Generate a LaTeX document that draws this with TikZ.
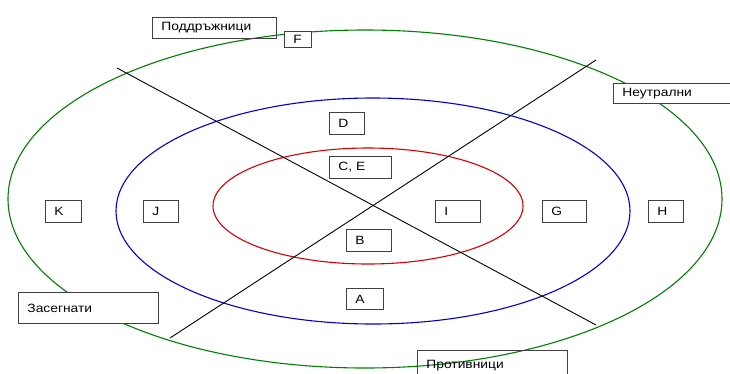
\documentclass[tikz,border=0pt]{standalone}
\usepackage{fontspec}
\setmainfont{Liberation Sans}[FakeStretch=1.15]
\usetikzlibrary{calc}
\begin{document}
\begin{tikzpicture}[x=1pt,y=-1pt,
  lab/.style={draw=black!75, line width=0.9pt, fill=white, anchor=north west,
    inner xsep=9pt, inner ysep=0pt, align=left,
    font=\fontsize{12}{13}\selectfont},
  ring/.style={line width=1.1pt},
  axis/.style={draw=black, line width=0.9pt}]
\useasboundingbox (0,0) rectangle (730,373);
\fill[white] (0,0) rectangle (730,373);

% stakeholder rings
\draw[ring, draw=green!50!black] (365,199) ellipse [x radius=357, y radius=169];
\draw[ring, draw=blue!85!black] (373,211) ellipse [x radius=257, y radius=113];
\draw[ring, draw=red!85!black] (368,206) ellipse [x radius=155, y radius=58];

% dividing axes
\coordinate (a1) at (117,68);
\coordinate (a2) at (596,325);
\coordinate (b1) at (596,60);
\coordinate (b2) at (170,338);
\draw[axis] (a1) -- (a2);
\draw[axis] (b1) -- (b2);

% group labels
\node[lab, fill=none, minimum width=124, minimum height=21, text width=106] (sup) at (152,17) {Поддръжници};
\node[lab, minimum width=27, minimum height=16, text width=9] (f) at (284,31) {F};
\node[lab, minimum width=120, minimum height=20, text width=102] (neu) at (613,83) {Неутрални};
\node[lab, minimum width=140, minimum height=31, text width=122] (aff) at (18,292) {Засегнати};
\node[lab, fill=none, minimum width=150, minimum height=30, text width=132] (opp) at (417,350) {Противници};

% stakeholder boxes
\node[lab, minimum width=35, minimum height=22, text width=17] (d) at (329,112) {D};
\node[lab, minimum width=62, minimum height=22, text width=44] (ce) at (329,156) {C, E};
\node[lab, minimum width=45, minimum height=22, text width=27] (b) at (346,229) {B};
\node[lab, minimum width=37, minimum height=21, text width=19] (a) at (346,288) {A};
\node[lab, minimum width=36, minimum height=22, text width=18] (k) at (45,200) {K};
\node[lab, minimum width=35, minimum height=22, text width=17] (j) at (143,200) {J};
\node[lab, minimum width=45, minimum height=22, text width=27] (i) at (435,200) {I};
\node[lab, minimum width=44, minimum height=22, text width=26] (g) at (542,200) {G};
\node[lab, minimum width=35, minimum height=22, text width=17] (h) at (648,200) {H};
\end{tikzpicture}
\end{document}
